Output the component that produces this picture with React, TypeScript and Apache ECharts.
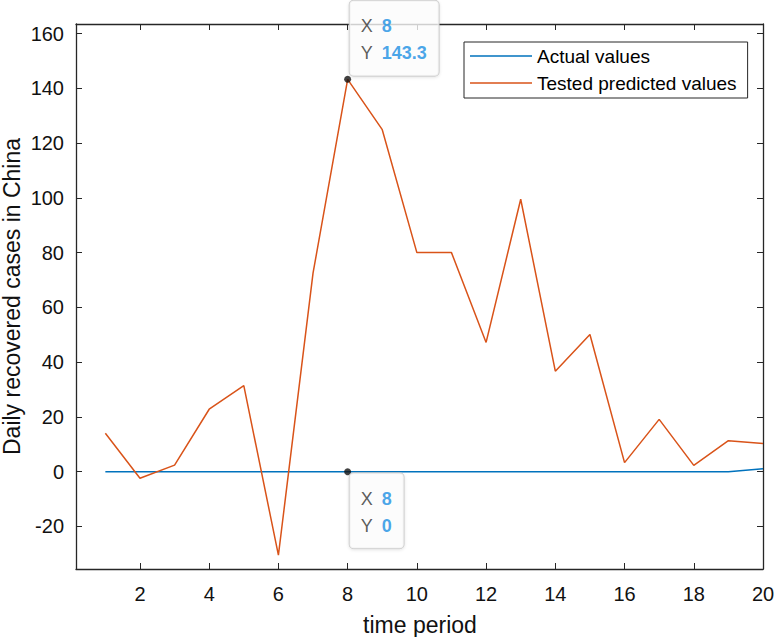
import React, { useEffect, useRef } from "react";
import * as echarts from "echarts";

const periods = [1, 2, 3, 4, 5, 6, 7, 8, 9, 10, 11, 12, 13, 14, 15, 16, 17, 18, 19, 20];
const actualValues = [0, 0, 0, 0, 0, 0, 0, 0, 0, 0, 0, 0, 0, 0, 0, 0, 0, 0, 0, 1.1];
const predictedValues = [14.0, -2.4, 2.4, 22.8, 31.4, -30.5, 72.5, 143.3, 124.9, 80.0, 80.0, 47.2, 99.5, 36.7, 50.1, 3.3, 19.1, 2.3, 11.3, 10.3];
const xTicks = [2, 4, 6, 8, 10, 12, 14, 16, 18, 20];
const yTicks = [-20, 0, 20, 40, 60, 80, 100, 120, 140, 160];
const tipIndex = 7;
const seriesNames = ["Actual values", "Tested predicted values"];
const xTitle = "time period";
const yTitle = "Daily recovered cases in China";

const FONT = "'Liberation Sans', Arial, Helvetica, sans-serif";
const AXIS_COLOR = "#262626";
const X_MIN = 0.152;
const X_MAX = 20;
const Y_MIN = -35.55;
const Y_MAX = 163.5;

function tipLabel(pos: "top" | "bottom") {
  return {
    show: true,
    position: pos,
    distance: pos === "top" ? 0 : -2,
    align: "left",
    verticalAlign: pos === "top" ? "bottom" : "top",
    offset: [2, 0],
    formatter: (p: any) => `{k|X}{v|${p.value[0]}}\n{k|Y}{v|${p.value[1]}}`,
    backgroundColor: "rgba(255,255,255,0.96)",
    borderColor: "#c4c4c4",
    borderWidth: 1,
    borderRadius: 4,
    shadowColor: "rgba(0,0,0,0.12)",
    shadowBlur: 3,
    shadowOffsetY: 1,
    padding: [12, 12, 9, 11],
    lineHeight: 27,
    rich: {
      k: { fontSize: 18, color: "#333333", width: 21, lineHeight: 27, fontFamily: FONT },
      v: { fontSize: 18, color: "#1a8fe3", fontWeight: "bold", lineHeight: 27, fontFamily: FONT },
    },
  };
}

export default function App() {
  const ref = useRef<HTMLDivElement>(null);
  useEffect(() => {
    if (!ref.current) return;
    const chart = echarts.init(ref.current, null, { renderer: "svg" });
    const axisCommon = {
      type: "value",
      axisLine: { show: true, onZero: false, lineStyle: { color: AXIS_COLOR, width: 1.3 } },
      splitLine: { show: false },
    };
    chart.setOption({
      animation: false,
      backgroundColor: "#ffffff",
      grid: { left: 76, right: 11, top: 24, bottom: 68, outerBoundsMode: "none", containLabel: false },
      legend: {
        orient: "vertical",
        left: 464,
        top: 42,
        data: seriesNames,
        icon: "rect",
        padding: [4, 11, 5, 6],
        itemWidth: 62,
        itemHeight: 1.6,
        itemGap: 7,
        borderColor: AXIS_COLOR,
        borderWidth: 1,
        backgroundColor: "#ffffff",
        textStyle: { fontSize: 19, fontFamily: FONT, color: "#000", lineHeight: 20 },
      },
      xAxis: [
        {
          ...axisCommon,
          min: X_MIN,
          max: X_MAX,
          position: "bottom",
          axisTick: { show: true, inside: true, length: 6, customValues: xTicks, lineStyle: { color: AXIS_COLOR } },
          axisLabel: { show: true, customValues: xTicks, margin: 15, fontSize: 20, fontFamily: FONT, color: "#111" },
        },
        {
          ...axisCommon,
          min: X_MIN,
          max: X_MAX,
          position: "top",
          axisTick: { show: true, inside: true, length: 6, customValues: xTicks, lineStyle: { color: AXIS_COLOR } },
          axisLabel: { show: false },
        },
      ],
      yAxis: [
        {
          ...axisCommon,
          min: Y_MIN,
          max: Y_MAX,
          position: "left",
          axisTick: { show: true, inside: true, length: 6, customValues: yTicks, lineStyle: { color: AXIS_COLOR } },
          axisLabel: { show: true, customValues: yTicks, margin: 12, fontSize: 20, fontFamily: FONT, color: "#111" },
        },
        {
          ...axisCommon,
          min: Y_MIN,
          max: Y_MAX,
          position: "right",
          axisTick: { show: true, inside: true, length: 6, customValues: yTicks, lineStyle: { color: AXIS_COLOR } },
          axisLabel: { show: false },
        },
      ],
      graphic: [
        {
          type: "text",
          x: 420,
          y: 625,
          style: { text: xTitle, fontSize: 23, fontFamily: FONT, fill: "#111", align: "center", verticalAlign: "middle" },
        },
        {
          type: "text",
          x: 12,
          y: 296.5,
          rotation: Math.PI / 2,
          style: { text: yTitle, fontSize: 23, fontFamily: FONT, fill: "#111", align: "center", verticalAlign: "middle" },
        },
      ],
      series: [
        {
          name: seriesNames[0],
          type: "line",
          data: periods.map((x, i) => [x, actualValues[i]]),
          symbol: "none",
          lineStyle: { color: "#0072BD", width: 1.5 },
          itemStyle: { color: "#0072BD" },
          z: 2,
        },
        {
          name: seriesNames[1],
          type: "line",
          data: periods.map((x, i) => [x, predictedValues[i]]),
          symbol: "none",
          lineStyle: { color: "#D95319", width: 1.5 },
          itemStyle: { color: "#D95319" },
          z: 3,
        },
        {
          type: "scatter",
          data: [[periods[tipIndex], predictedValues[tipIndex]]],
          symbol: "circle",
          symbolSize: 7,
          itemStyle: { color: "#111" },
          label: tipLabel("top"),
          z: 5,
          clip: false,
        },
        {
          type: "scatter",
          data: [[periods[tipIndex], actualValues[tipIndex]]],
          symbol: "circle",
          symbolSize: 7,
          itemStyle: { color: "#111" },
          label: tipLabel("bottom"),
          z: 5,
          clip: false,
        },
      ],
    });
    return () => chart.dispose();
  }, []);
  return <div ref={ref} style={{ position: "fixed", left: 0, top: 0, width: 774, height: 637 }} />;
}
